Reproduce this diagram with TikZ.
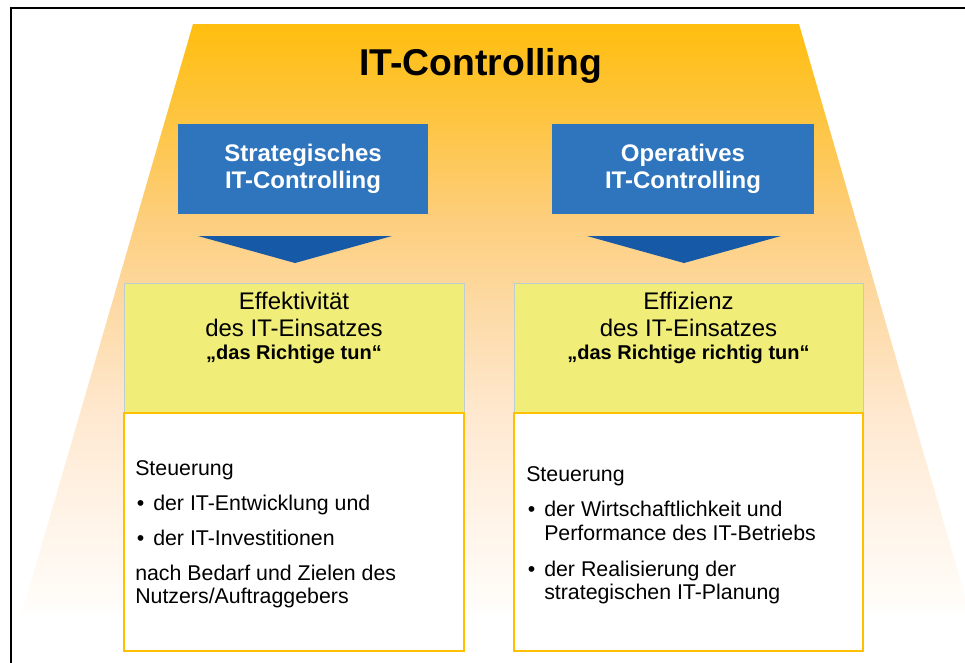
\documentclass[tikz,border=0pt]{standalone}
\usepackage{fontspec}
\setmainfont{Liberation Sans}
\definecolor{gA}{RGB}{255,190,15}
\definecolor{gB}{RGB}{254,196,60}
\definecolor{gC}{RGB}{253,206,125}
\definecolor{gD}{RGB}{253,217,162}
\definecolor{gE}{RGB}{255,233,210}
\definecolor{gF}{RGB}{255,244,232}
\definecolor{gG}{RGB}{255,252,248}
\definecolor{blueBox}{RGB}{46,117,190}
\definecolor{blueTri}{RGB}{22,89,166}
\definecolor{yelBox}{RGB}{240,238,120}
\definecolor{yelEdge}{RGB}{190,205,210}
\definecolor{orEdge}{RGB}{255,192,0}
\pgfdeclareverticalshading{trapshade}{100bp}{color(0bp)=(white); color(25bp)=(white); color(26.7bp)=(gG); color(33.4bp)=(gF); color(41.8bp)=(gE); color(51.8bp)=(gD); color(58.6bp)=(gC); color(67.8bp)=(gB); color(75bp)=(gA); color(100bp)=(gA)}
\tikzset{
  bluebox/.style={fill=blueBox, inner sep=0pt, outer sep=0pt, minimum height=67.5pt,
    text=white, align=center, font=\fontsize{18}{20}\selectfont\bfseries},
  yelbox/.style={fill=yelBox, draw=yelEdge, line width=0.6pt, inner sep=0pt, outer sep=0pt, minimum height=97.5pt},
  whitebox/.style={fill=white, draw=orEdge, line width=1.5pt, inner sep=0pt, outer sep=0pt, minimum height=178.5pt},
  tri/.style={fill=blueTri},
  yeltext/.style={inner sep=0pt, anchor=base, font=\fontsize{18}{20}\selectfont},
  yelbold/.style={inner sep=0pt, anchor=base, font=\fontsize{15}{18}\selectfont\bfseries},
  bodytext/.style={inner sep=0pt, anchor=base west, font=\fontsize{16}{18}\selectfont},
}
\begin{document}
\begin{tikzpicture}[x=0.75pt,y=-0.75pt]
\useasboundingbox (0,0) rectangle (965,662);
\clip (0,0) rectangle (965,662);
\fill[white] (0,0) rectangle (965,662);
% trapezoid
\shade[shading=trapshade] (193,24) -- (799,24) -- (972,620) -- (20,620) -- cycle;
% frame
\draw[line width=1.5pt] (11,700) -- (11,7.7) -- (1000,7.7);
% title
\node[inner sep=0pt, anchor=base, font=\fontsize{28}{30}\selectfont\bfseries] (title) at (480.5,75.5) {IT-Controlling};
% blue boxes
\node[bluebox, minimum width=187.5pt] (strat) at (303,169) {Strategisches\\IT-Controlling};
\node[bluebox, minimum width=196.5pt] (oper) at (683,169) {Operatives\\IT-Controlling};
% triangles
\fill[tri] (198,236) -- (392,236) -- (295,263) -- cycle;
\fill[tri] (587,236) -- (781,236) -- (684,263) -- cycle;
% yellow boxes
\node[yelbox, minimum width=255pt] (effk) at (294,348) {};
\node[yelbox, minimum width=261.75pt] (effz) at (688.5,348) {};
\node[yeltext] (effk1) at (294,309) {Effektivität};
\node[yeltext] (effk2) at (294,336) {des IT-Einsatzes};
\node[yelbold] (effk3) at (294,359) {„das Richtige tun“};
\node[yeltext] (effz1) at (688.5,309) {Effizienz};
\node[yeltext] (effz2) at (688.5,336) {des IT-Einsatzes};
\node[yelbold] (effz3) at (688.5,359) {„das Richtige richtig tun“};
% white boxes
\node[whitebox, minimum width=255pt] (stL) at (294,532) {};
\node[whitebox, minimum width=261.75pt] (stR) at (688.5,532) {};
% left text
\node[bodytext] (l1) at (135,475) {Steuerung};
\node[bodytext] (l2b) at (136.5,510) {•};
\node[bodytext] (l2) at (153,510) {der IT-Entwicklung und};
\node[bodytext] (l3b) at (136.5,545) {•};
\node[bodytext] (l3) at (153,545) {der IT-Investitionen};
\node[bodytext] (l4) at (135,580.5) {nach Bedarf und Zielen des};
\node[bodytext] (l5) at (135,603) {Nutzers/Auftraggebers};
% right text
\node[bodytext] (r1) at (526,481.5) {Steuerung};
\node[bodytext] (r2b) at (527.5,516.5) {•};
\node[bodytext] (r2) at (544,516.5) {der Wirtschaftlichkeit und};
\node[bodytext] (r3) at (544,540.5) {Performance des IT-Betriebs};
\node[bodytext] (r4b) at (527.5,576) {•};
\node[bodytext] (r4) at (544,576) {der Realisierung der};
\node[bodytext] (r5) at (544,599.5) {strategischen IT-Planung};
\end{tikzpicture}
\end{document}
